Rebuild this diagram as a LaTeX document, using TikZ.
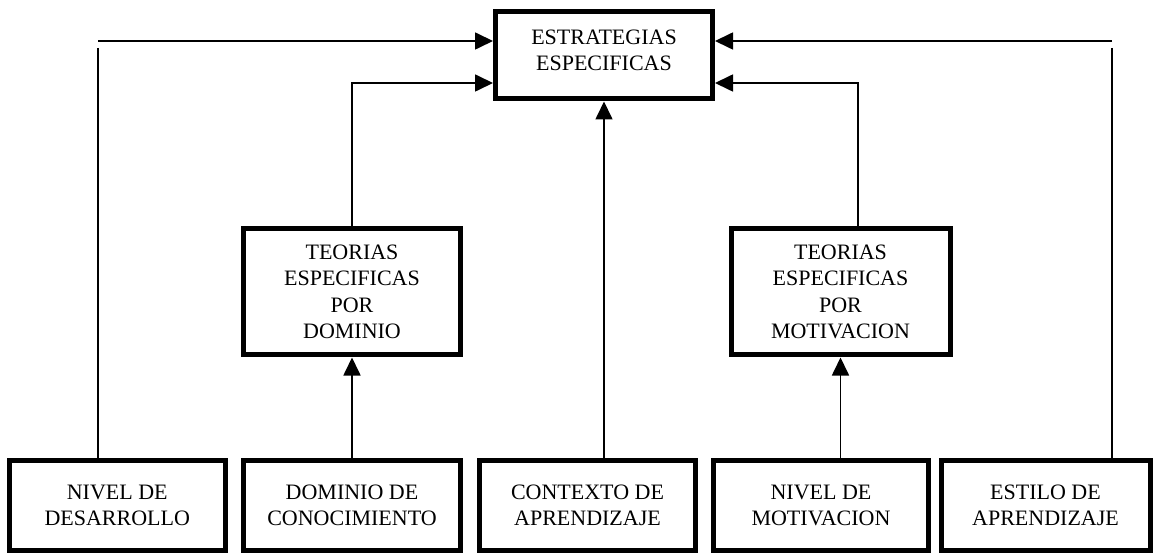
\documentclass[tikz,border=0pt]{standalone}
\usepackage{fontspec}
\setmainfont{Liberation Serif}
\usetikzlibrary{arrows.meta,calc}
\begin{document}
\begin{tikzpicture}[x=1pt,y=-1pt,
  boxtext/.style={align=center, inner sep=0pt, font=\fontsize{22}{26.5}\selectfont},
  box/.style={draw, line width=5pt, rectangle, boxtext},
  conn/.style={line width=1.7pt},
  arr/.style={conn, -{Triangle[length=18pt,width=17pt]}}]
\useasboundingbox (0,0) rectangle (1157,553);
% top
\node[box, minimum width=217pt, minimum height=87pt] (T) at (604,55.5) {};
\node[boxtext] (Tt) at ($(T.center)+(0,-5)$) {ESTRATEGIAS\\ESPECIFICAS};
% middle
\node[box, minimum width=217pt, minimum height=126.5pt] (ML) at (352,291.75) {TEORIAS\\ESPECIFICAS\\POR\\DOMINIO};
\node[box, minimum width=219pt, minimum height=126.5pt] (MR) at (840.5,291.75) {TEORIAS\\ESPECIFICAS\\POR\\MOTIVACION};
% bottom
\node[box, minimum width=215.5pt, minimum height=90.5pt] (B1) at (117.25,505.25) {NIVEL DE\\DESARROLLO};
\node[box, minimum width=217pt, minimum height=90.5pt] (B2) at (352,505.25) {DOMINIO DE\\CONOCIMIENTO};
\node[box, minimum width=216pt, minimum height=90.5pt] (B3) at (587.5,505.25) {CONTEXTO DE\\APRENDIZAJE};
\node[box, minimum width=215pt, minimum height=90.5pt] (B4) at (821,505.25) {NIVEL DE\\MOTIVACION};
\node[box, minimum width=209pt, minimum height=90.5pt] (B5) at (1045.5,505.25) {ESTILO DE\\APRENDIZAJE};
% helper coordinates
\coordinate (L1) at (98,48);
\coordinate (L1h) at (98,41);
\coordinate (R1) at (1112,48);
\coordinate (R1h) at (1112,41);
\coordinate (Y2) at (0,83);
\coordinate (MRx) at (858,0);
% connectors
\draw[conn] (L1) -- (L1 |- B1.north);
\draw[arr] (L1h) -- (L1h -| T.west);
\draw[conn] (R1) -- (R1 |- B5.north);
\draw[arr] (R1h) -- (R1h -| T.east);
\draw[arr] (B2.north) -- (ML.south);
\draw[arr] (ML.north) |- (T.west |- Y2);
\draw[arr] (B3.north -| T.south) -- (T.south);
\draw[arr] (B4.north -| MR.south) -- (MR.south);
\draw[arr] (MR.north -| MRx) |- (T.east |- Y2);
\end{tikzpicture}
\end{document}
